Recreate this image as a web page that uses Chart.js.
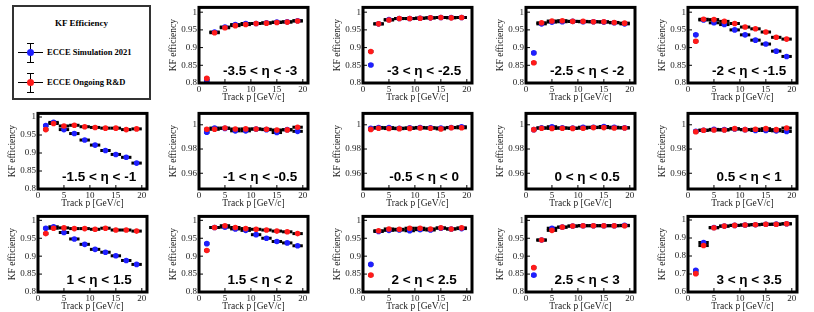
<!DOCTYPE html>
<html>
<head>
<meta charset="utf-8">
<script src="https://cdn.jsdelivr.net/npm/chart.js@4.4.1/dist/chart.umd.min.js"></script>
<style>
  body { margin: 0; background: #fff; }
  #wrap { position: relative; width: 814px; height: 312px; overflow: hidden; }
  #wrap canvas { position: absolute; }
  #legend { position: absolute; left: 12px; top: 5px; width: 135px; height: 91px;
            border: 2px solid #333; font-family: "Liberation Serif", serif; font-weight: bold; }
  #legend .title { position: absolute; left: 0; width: 100%; top: 11px; text-align: center; font-size: 9px; }
  #legend .row { position: absolute; left: 0; width: 100%; height: 20px; }
  #legend .hl { position: absolute; left: 4px; width: 25px; top: 9px; height: 1px; background: #000; }
  #legend .vl { position: absolute; left: 16px; width: 1px; top: 0; height: 20px; background: #000; }
  #legend .cap { position: absolute; left: 13px; width: 7px; height: 1px; background: #000; }
  #legend .dot { position: absolute; left: 13px; top: 6px; width: 7px; height: 7px; border-radius: 50%; }
  #legend .txt { position: absolute; left: 33px; top: 4px; font-size: 8.5px; white-space: nowrap; }
</style>
</head>
<body>
<div id="wrap">
  <div id="legend">
    <div class="title">KF Efficiency</div>
    <div class="row" style="top:36px">
      <div class="hl"></div><div class="vl"></div>
      <div class="cap" style="top:0"></div><div class="cap" style="top:19px"></div>
      <div class="dot" style="background:#1f1fff"></div>
      <div class="txt">ECCE Simulation 2021</div>
    </div>
    <div class="row" style="top:66px">
      <div class="hl"></div><div class="vl"></div>
      <div class="cap" style="top:0"></div><div class="cap" style="top:19px"></div>
      <div class="dot" style="background:#ff1a1a"></div>
      <div class="txt">ECCE Ongoing R&amp;D</div>
    </div>
  </div>
</div>
<script>
// track momentum bins [GeV/c]
const pCenter = [1.5, 3, 5, 7, 9, 11, 13, 15, 17, 19];
const pHalfWidth = [0.5, 1, 1, 1, 1, 1, 1, 1, 1, 1];

const xTicks = [0, 5, 10, 15, 20];
const yTicksWide = [0.8, 0.85, 0.9, 0.95, 1];
const yTicksNarrow = [0.96, 0.98, 1];
const yTicksLast = [0.6, 0.7, 0.8, 0.9, 1];

// eta bin labels
const etaLabels = [
  "-3.5 < \u03B7 < -3", "-3 < \u03B7 < -2.5", "-2.5 < \u03B7 < -2", "-2 < \u03B7 < -1.5",
  "-1.5 < \u03B7 < -1", "-1 < \u03B7 < -0.5", "-0.5 < \u03B7 < 0", "0 < \u03B7 < 0.5", "0.5 < \u03B7 < 1",
  "1 < \u03B7 < 1.5", "1.5 < \u03B7 < 2", "2 < \u03B7 < 2.5", "2.5 < \u03B7 < 3", "3 < \u03B7 < 3.5"
];

// ECCE Simulation 2021 (blue) / ECCE Ongoing R&D (red)
const sim_m35 = [0.807, 0.944, 0.958, 0.965, 0.968, 0.968, 0.970, 0.972, 0.973, 0.976];
const rnd_m35 = [0.813, 0.942, 0.956, 0.962, 0.965, 0.968, 0.969, 0.971, 0.972, 0.975];
const sim_m30 = [0.851, 0.967, 0.979, 0.982, 0.982, 0.983, 0.984, 0.985, 0.985, 0.985];
const rnd_m30 = [0.889, 0.967, 0.978, 0.982, 0.982, 0.983, 0.984, 0.985, 0.984, 0.985];
const sim_m25 = [0.885, 0.967, 0.972, 0.973, 0.974, 0.973, 0.973, 0.972, 0.970, 0.967];
const rnd_m25 = [0.857, 0.970, 0.975, 0.976, 0.974, 0.974, 0.973, 0.973, 0.971, 0.969];
const sim_m20 = [0.936, 0.978, 0.970, 0.965, 0.950, 0.936, 0.921, 0.910, 0.890, 0.875];
const rnd_m20 = [0.918, 0.980, 0.979, 0.974, 0.968, 0.958, 0.953, 0.944, 0.929, 0.924];
const sim_m15 = [0.976, 0.985, 0.965, 0.954, 0.936, 0.922, 0.907, 0.896, 0.888, 0.872];
const rnd_m15 = [0.965, 0.982, 0.975, 0.977, 0.973, 0.971, 0.969, 0.969, 0.965, 0.967];
const sim_m10 = [0.9938, 0.9973, 0.9970, 0.9950, 0.9950, 0.9965, 0.9960, 0.9936, 0.9960, 0.9946];
const rnd_m10 = [0.9963, 0.9963, 0.9973, 0.9965, 0.9966, 0.9965, 0.9963, 0.9957, 0.9958, 0.9980];
const sim_m05 = [0.9970, 0.9978, 0.9977, 0.9972, 0.9975, 0.9978, 0.9976, 0.9974, 0.9978, 0.9984];
const rnd_m05 = [0.9962, 0.9972, 0.9969, 0.9968, 0.9970, 0.9973, 0.9972, 0.9966, 0.9976, 0.9975];
const sim_p00 = [0.9960, 0.9975, 0.9984, 0.9975, 0.9973, 0.9980, 0.9980, 0.9986, 0.9980, 0.9976];
const rnd_p00 = [0.9960, 0.9972, 0.9970, 0.9972, 0.9970, 0.9972, 0.9977, 0.9977, 0.9974, 0.9974];
const sim_p05 = [0.9947, 0.9955, 0.9962, 0.9960, 0.9965, 0.9960, 0.9953, 0.9953, 0.9950, 0.9945];
const rnd_p05 = [0.9942, 0.9955, 0.9957, 0.9957, 0.9968, 0.9960, 0.9963, 0.9968, 0.9960, 0.9973];
const sim_p10 = [0.978, 0.982, 0.966, 0.948, 0.933, 0.919, 0.911, 0.901, 0.888, 0.877];
const rnd_p10 = [0.963, 0.978, 0.979, 0.977, 0.977, 0.975, 0.978, 0.973, 0.973, 0.970];
const sim_p15 = [0.935, 0.980, 0.981, 0.976, 0.972, 0.960, 0.950, 0.941, 0.937, 0.929];
const rnd_p15 = [0.916, 0.980, 0.985, 0.980, 0.977, 0.975, 0.973, 0.970, 0.968, 0.963];
const sim_p20 = [0.877, 0.969, 0.972, 0.973, 0.971, 0.974, 0.973, 0.978, 0.976, 0.977];
const rnd_p20 = [0.847, 0.971, 0.976, 0.975, 0.978, 0.978, 0.976, 0.979, 0.976, 0.979];
const sim_p25 = [0.847, 0.945, 0.978, 0.981, 0.984, 0.985, 0.985, 0.985, 0.985, 0.986];
const rnd_p25 = [0.868, 0.945, 0.972, 0.981, 0.984, 0.985, 0.985, 0.985, 0.985, 0.985];
const sim_p30 = [0.720, 0.875, 0.958, 0.966, 0.970, 0.972, 0.974, 0.976, 0.977, 0.979];
const rnd_p30 = [0.702, 0.858, 0.957, 0.966, 0.970, 0.972, 0.974, 0.976, 0.976, 0.979];

const panels = [
  { sim: sim_m35, rnd: rnd_m35, yMin: 0.8, yMax: 1.0135, yTicks: yTicksWide },
  { sim: sim_m30, rnd: rnd_m30, yMin: 0.8, yMax: 1.0135, yTicks: yTicksWide },
  { sim: sim_m25, rnd: rnd_m25, yMin: 0.8, yMax: 1.0135, yTicks: yTicksWide },
  { sim: sim_m20, rnd: rnd_m20, yMin: 0.8, yMax: 1.0135, yTicks: yTicksWide },
  { sim: sim_m15, rnd: rnd_m15, yMin: 0.8, yMax: 1.01, yTicks: yTicksWide },
  { sim: sim_m10, rnd: rnd_m10, yMin: 0.947, yMax: 1.0094, yTicks: yTicksNarrow },
  { sim: sim_m05, rnd: rnd_m05, yMin: 0.947, yMax: 1.0094, yTicks: yTicksNarrow },
  { sim: sim_p00, rnd: rnd_p00, yMin: 0.947, yMax: 1.0094, yTicks: yTicksNarrow },
  { sim: sim_p05, rnd: rnd_p05, yMin: 0.947, yMax: 1.0094, yTicks: yTicksNarrow },
  { sim: sim_p10, rnd: rnd_p10, yMin: 0.8, yMax: 1.011, yTicks: yTicksWide },
  { sim: sim_p15, rnd: rnd_p15, yMin: 0.8, yMax: 1.011, yTicks: yTicksWide },
  { sim: sim_p20, rnd: rnd_p20, yMin: 0.8, yMax: 1.011, yTicks: yTicksWide },
  { sim: sim_p25, rnd: rnd_p25, yMin: 0.8, yMax: 1.011, yTicks: yTicksWide },
  { sim: sim_p30, rnd: rnd_p30, yMin: 0.6, yMax: 1.02, yTicks: yTicksLast }
];

const colLeft = [1, 162, 326, 489, 651];
const rowTop = [0, 106, 209];

// black bin-width bars, frame, inner ticks and eta label
const panelDecor = {
  id: "panelDecor",
  beforeDatasetsDraw(chart) {
    const ctx = chart.ctx, xs = chart.scales.x, ys = chart.scales.y;
    ctx.save();
    ctx.strokeStyle = "#000";
    ctx.lineWidth = 3;
    chart.data.datasets.forEach(ds => {
      ds.data.forEach((pt, i) => {
        const y = ys.getPixelForValue(pt.y);
        ctx.beginPath();
        ctx.moveTo(xs.getPixelForValue(pt.x - pHalfWidth[i]), y);
        ctx.lineTo(xs.getPixelForValue(pt.x + pHalfWidth[i]), y);
        ctx.stroke();
      });
    });
    ctx.restore();
  },
  afterDraw(chart, args, opts) {
    const ctx = chart.ctx, a = chart.chartArea;
    const xs = chart.scales.x, ys = chart.scales.y;
    ctx.save();
    ctx.strokeStyle = "#000";
    ctx.lineWidth = 1;
    xTicks.forEach(v => {
      const x = xs.getPixelForValue(v);
      ctx.beginPath(); ctx.moveTo(x, a.bottom); ctx.lineTo(x, a.bottom - 4); ctx.stroke();
    });
    opts.yTicks.forEach(v => {
      const y = ys.getPixelForValue(v);
      ctx.beginPath(); ctx.moveTo(a.left, y); ctx.lineTo(a.left + 4, y); ctx.stroke();
    });
    ctx.lineWidth = 3;
    ctx.strokeRect(a.left, a.top, a.right - a.left, a.bottom - a.top);
    ctx.fillStyle = "#000";
    ctx.font = "bold 13.5px 'Liberation Sans', Arial, sans-serif";
    ctx.textAlign = "center";
    ctx.textBaseline = "middle";
    ctx.fillText(opts.eta, a.left + 0.56 * (a.right - a.left), a.top + 0.85 * (a.bottom - a.top));
    ctx.restore();
  }
};

function makePanel(idx) {
  const p = panels[idx];
  const cell = idx + 1;
  const row = Math.floor(cell / 5), col = cell % 5;
  const canvas = document.createElement("canvas");
  canvas.width = 163;
  canvas.height = 103;
  canvas.style.left = colLeft[col] + "px";
  canvas.style.top = rowTop[row] + "px";
  document.getElementById("wrap").appendChild(canvas);

  const tickFont = { family: "'Liberation Serif', serif", size: 9 };
  new Chart(canvas.getContext("2d"), {
    type: "scatter",
    data: {
      datasets: [
        { label: "ECCE Ongoing R&D", data: pCenter.map((x, i) => ({ x, y: p.rnd[i] })),
          backgroundColor: "#ff1a1a", pointRadius: 2.8, pointBorderWidth: 0, order: 0 },
        { label: "ECCE Simulation 2021", data: pCenter.map((x, i) => ({ x, y: p.sim[i] })),
          backgroundColor: "#1f1fff", pointRadius: 2.8, pointBorderWidth: 0, order: 1 }
      ]
    },
    options: {
      responsive: false,
      animation: false,
      layout: { padding: { top: 4, right: 17, left: 0, bottom: 0 } },
      plugins: {
        legend: { display: false },
        tooltip: { enabled: false },
        panelDecor: { eta: etaLabels[idx], yTicks: p.yTicks }
      },
      scales: {
        x: {
          type: "linear", min: 0, max: 21,
          grid: { display: false, drawTicks: false },
          border: { display: false },
          afterBuildTicks: s => { s.ticks = xTicks.map(v => ({ value: v })); },
          afterFit: s => { s.height = 20; },
          ticks: { font: tickFont, color: "#222", padding: 1, maxRotation: 0,
                   callback: v => String(v) },
          title: { display: true, text: "Track p [GeV/c]", color: "#222",
                   font: { family: "'Liberation Serif', serif", size: 9.5 }, padding: { top: -0.5, bottom: 0 } }
        },
        y: {
          type: "linear", min: p.yMin, max: p.yMax,
          grid: { display: false, drawTicks: false },
          border: { display: false },
          afterBuildTicks: s => { s.ticks = p.yTicks.map(v => ({ value: v })); },
          afterFit: s => { s.width = 37; },
          ticks: { font: tickFont, color: "#222", padding: 2,
                   callback: v => String(Number(v.toFixed(3))) },
          title: { display: true, text: "KF efficiency", color: "#222",
                   font: { family: "'Liberation Serif', serif", size: 9.5 }, padding: { top: 6, bottom: 0 } }
        }
      }
    },
    plugins: [panelDecor]
  });
}

panels.forEach((p, i) => makePanel(i));
</script>
</body>
</html>
